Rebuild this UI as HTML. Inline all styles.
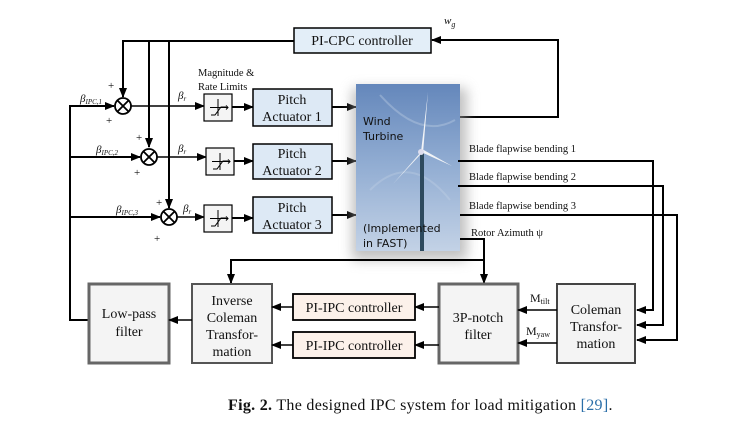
<!DOCTYPE html>
<html><head><meta charset="utf-8"><style>
html,body{margin:0;padding:0;background:#fff;}
svg{display:block;}
text{font-family:"Liberation Serif",serif;fill:#111;}
</style></head><body>
<svg width="733" height="434" viewBox="0 0 733 434" xmlns="http://www.w3.org/2000/svg">
<defs>
<marker id="a" markerWidth="10" markerHeight="8" refX="9" refY="4" orient="auto" markerUnits="userSpaceOnUse"><path d="M0,0 L10,4 L0,8 z" fill="#000"/></marker>
<linearGradient id="sky" x1="0" y1="0" x2="0" y2="1"><stop offset="0" stop-color="#6487bb"/><stop offset="0.5" stop-color="#93aed3"/><stop offset="1" stop-color="#c3d2e6"/></linearGradient>
<filter id="sh" x="-30%" y="-10%" width="160%" height="130%"><feGaussianBlur stdDeviation="6"/></filter>
</defs>
<g stroke="#000" stroke-width="2" fill="none">
<rect x="294" y="28" width="137" height="25" fill="#e3eef8" stroke-width="1.5"/>
<polyline points="458,117 558,117 558,40 432,40" marker-end="url(#a)"/>
<polyline points="294,41 123,41 123,97" marker-end="url(#a)"/>
<polyline points="149,41 149,147" marker-end="url(#a)"/>
<polyline points="169,41 169,208" marker-end="url(#a)"/>
<polyline points="89,320 70,320 70,106 114,106" marker-end="url(#a)"/>
<polyline points="70,157 140,157" marker-end="url(#a)"/>
<polyline points="70,217 160,217" marker-end="url(#a)"/>
<circle cx="123" cy="106" r="8" stroke-width="1.8"/>
<circle cx="149" cy="157" r="8" stroke-width="1.8"/>
<circle cx="169" cy="217" r="8" stroke-width="1.8"/>
<path d="M117.5,100.5 l11,11 M128.5,100.5 l-11,11 M143.5,151.5 l11,11 M154.5,151.5 l-11,11 M163.5,211.5 l11,11 M174.5,211.5 l-11,11" stroke-width="1.8"/>
<polyline points="131,106 204,106" marker-end="url(#a)" stroke-width="1.5"/>
<polyline points="157,157 206,157" marker-end="url(#a)" stroke-width="1.5"/>
<polyline points="177,217 204,217" marker-end="url(#a)" stroke-width="1.5"/>
<rect x="204" y="94" width="28" height="27" fill="#f4f4f4" stroke-width="1.2"/>
<rect x="206" y="148" width="28" height="27" fill="#f4f4f4" stroke-width="1.2"/>
<rect x="204" y="205" width="28" height="27" fill="#f4f4f4" stroke-width="1.2"/>
<g stroke-width="1">
<path d="M210,107.5 h18 M218,99 v17 M211,115 l4,0 l6,-8 l5,0 M226,105.5 l2,2 l-2,2"/>
<path d="M212,161.5 h18 M220,153 v17 M213,169 l4,0 l6,-8 l5,0 M228,159.5 l2,2 l-2,2"/>
<path d="M210,218.5 h18 M218,210 v17 M211,226 l4,0 l6,-8 l5,0 M226,216.5 l2,2 l-2,2"/>
</g>
<polyline points="232,107 253,107" marker-end="url(#a)"/>
<polyline points="234,161 253,161" marker-end="url(#a)"/>
<polyline points="232,218 253,218" marker-end="url(#a)"/>
<rect x="253" y="89" width="79" height="37" fill="#dde9f5" stroke-width="1.5"/>
<rect x="253" y="144" width="79" height="35" fill="#dde9f5" stroke-width="1.5"/>
<rect x="253" y="197" width="79" height="36" fill="#dde9f5" stroke-width="1.5"/>
<polyline points="332,107 356,107" marker-end="url(#a)"/>
<polyline points="332,161 356,161" marker-end="url(#a)"/>
<polyline points="332,215 356,215" marker-end="url(#a)"/>
</g>
<rect x="352" y="88" width="115" height="172" fill="#999" opacity="0.6" filter="url(#sh)"/>
<rect x="356" y="84" width="104" height="167" fill="url(#sky)"/>
<path d="M380,95 Q420,140 455,120" stroke="#c9d6e8" stroke-width="2" fill="none" opacity="0.35"/>
<path d="M370,190 Q410,150 450,200" stroke="#c9d6e8" stroke-width="2" fill="none" opacity="0.3"/>
<rect x="420" y="152" width="4" height="99" fill="#2e4a5e"/>
<path d="M421,152 L428,92 L423,153 z" fill="#f2f4f7"/>
<path d="M421,152 L393,184 L420,155 z" fill="#eef1f5"/>
<path d="M421,152 L452,166 L422,149 z" fill="#f2f4f7"/>
<circle cx="421" cy="152" r="3" fill="#dde"/>
<g font-size="11" fill="#1a2238">
<text x="363" y="125" style="font-family:'DejaVu Sans',sans-serif">Wind</text>
<text x="363" y="140" style="font-family:'DejaVu Sans',sans-serif">Turbine</text>
<text x="363" y="232" style="font-family:'DejaVu Sans',sans-serif">(Implemented</text>
<text x="363" y="247" style="font-family:'DejaVu Sans',sans-serif">in FAST)</text>
</g>
<g stroke="#000" stroke-width="2" fill="none">
<polyline points="458,161 653,161 653,310 637,310" marker-end="url(#a)"/>
<polyline points="458,186 663,186 663,325 637,325" marker-end="url(#a)"/>
<polyline points="460,215 677,215 677,340 637,340" marker-end="url(#a)"/>
<polyline points="460,239 484,239 484,283" marker-end="url(#a)"/>
<polyline points="484,260 231,260 231,283" marker-end="url(#a)"/>
<rect x="89" y="284" width="80" height="79" fill="#f4f4f4" stroke="#666" stroke-width="3"/>
<rect x="192" y="284" width="80" height="79" fill="#f4f4f4" stroke="#555" stroke-width="2"/>
<rect x="439" y="284" width="79" height="79" fill="#f4f4f4" stroke="#666" stroke-width="3"/>
<rect x="557" y="284" width="78" height="79" fill="#f4f4f4" stroke="#444" stroke-width="2"/>
<rect x="293" y="294" width="122" height="26" fill="#fcf1ea" stroke-width="1.8"/>
<rect x="293" y="332" width="122" height="26" fill="#fcf1ea" stroke-width="1.8"/>
<polyline points="557,310 518,310" marker-end="url(#a)" stroke-width="1.5"/>
<polyline points="557,343 518,343" marker-end="url(#a)" stroke-width="1.5"/>
<polyline points="439,307 415,307" marker-end="url(#a)" stroke-width="1.5"/>
<polyline points="439,345 415,345" marker-end="url(#a)" stroke-width="1.5"/>
<polyline points="293,307 272,307" marker-end="url(#a)" stroke-width="1.5"/>
<polyline points="293,345 272,345" marker-end="url(#a)" stroke-width="1.5"/>
<polyline points="192,320 169,320" marker-end="url(#a)" stroke-width="1.5"/>
</g>
<g font-size="14" text-anchor="middle">
<text x="362" y="45">PI-CPC controller</text>
<text x="292" y="104">Pitch</text><text x="292" y="121">Actuator 1</text>
<text x="292" y="158">Pitch</text><text x="292" y="175">Actuator 2</text>
<text x="292" y="212">Pitch</text><text x="292" y="229">Actuator 3</text>
<text x="129" y="318">Low-pass</text><text x="129" y="336">filter</text>
<text x="232" y="305">Inverse</text><text x="232" y="322">Coleman</text><text x="232" y="339">Transfor-</text><text x="232" y="356">mation</text>
<text x="354" y="312">PI-IPC controller</text>
<text x="354" y="350">PI-IPC controller</text>
<text x="478" y="322">3P-notch</text><text x="478" y="339">filter</text>
<text x="596" y="314">Coleman</text><text x="596" y="331">Transfor-</text><text x="596" y="348">mation</text>
</g>
<g font-size="10.5">
<text x="198" y="76">Magnitude &amp;</text>
<text x="198" y="90">Rate Limits</text>
<text x="469" y="152">Blade flapwise bending 1</text>
<text x="469" y="180">Blade flapwise bending 2</text>
<text x="469" y="209">Blade flapwise bending 3</text>
<text x="471" y="236">Rotor Azimuth ψ</text>
<text x="530" y="302" font-size="12">M<tspan font-size="8" dy="2">tilt</tspan></text>
<text x="526" y="335" font-size="12">M<tspan font-size="8" dy="2">yaw</tspan></text>
</g>
<g font-size="11" font-style="italic">
<text x="444" y="24">w<tspan font-size="8" dy="3">g</tspan></text>
<text x="80" y="102">β<tspan font-size="7" dy="2">IPC,1</tspan></text>
<text x="96" y="153">β<tspan font-size="7" dy="2">IPC,2</tspan></text>
<text x="116" y="213">β<tspan font-size="7" dy="2">IPC,3</tspan></text>
<text x="178" y="99">β<tspan font-size="7" dy="2">r</tspan></text>
<text x="178" y="152">β<tspan font-size="7" dy="2">r</tspan></text>
<text x="183" y="212">β<tspan font-size="7" dy="2">r</tspan></text>
</g>
<g font-size="11">
<text x="108" y="89">+</text><text x="106" y="124">+</text>
<text x="136" y="141">+</text><text x="134" y="176">+</text>
<text x="156" y="206">+</text><text x="154" y="242">+</text>
</g>
<text x="228" y="410" font-size="16" letter-spacing="0.3"><tspan font-weight="bold">Fig. 2.</tspan> The designed IPC system for load mitigation <tspan fill="#2a6ea8">[29]</tspan>.</text>
</svg>
</body></html>
